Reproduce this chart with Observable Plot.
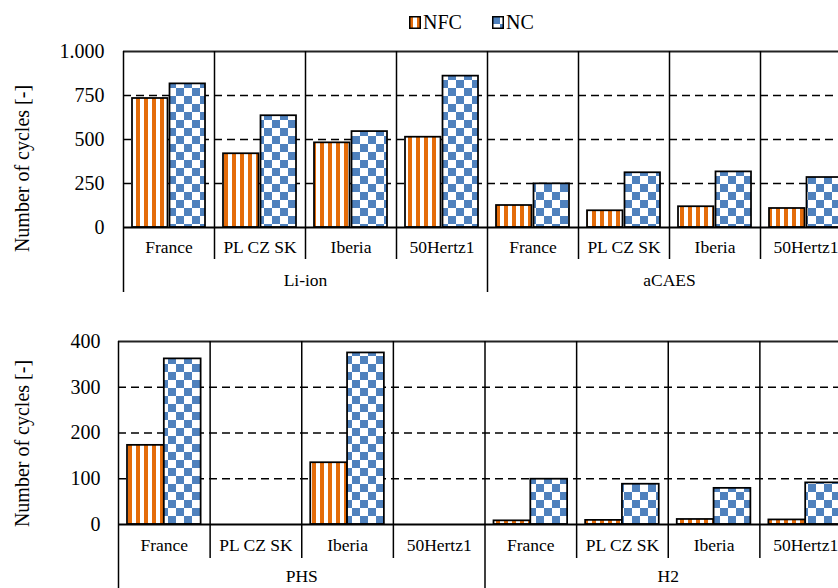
<!DOCTYPE html>
<html>
<head>
<meta charset="utf-8">
<script src="https://cdn.jsdelivr.net/npm/d3@7"></script>
<script src="https://cdn.jsdelivr.net/npm/@observablehq/plot@0.6"></script>
<style>
html, body { margin: 0; padding: 0; background: #fff; }
body { width: 838px; height: 588px; overflow: hidden; font-family: 'Liberation Serif', 'Times New Roman', serif; }
#wrap { width: 880px; }
#legend { position: relative; height: 40px; font-size: 20px; color: #000; }
#legend .item { position: absolute; top: 10px; line-height: 24px; display: flex; align-items: center; }
#legend svg { display: block; margin-right: 2px; }
#panels svg { display: block; }
#panels svg text { font-family: 'Liberation Serif', 'Times New Roman', serif; }
</style>
</head>
<body>
<svg width="0" height="0" style="position:absolute">
  <defs>
    <pattern id="pNFC" width="8" height="8" patternUnits="userSpaceOnUse">
      <rect width="8" height="8" fill="#ffffff"/>
      <rect width="4" height="8" fill="#E46C0A"/>
    </pattern>
    <pattern id="pNC" width="16" height="16" patternUnits="userSpaceOnUse">
      <rect width="16" height="16" fill="#ffffff"/>
      <rect width="8" height="8" fill="#4F81BD"/>
      <rect x="8" y="8" width="8" height="8" fill="#4F81BD"/>
    </pattern>
  </defs>
</svg>
<div id="wrap">
  <div id="legend"></div>
  <div id="panels"></div>
</div>
<script>
// ---- data ----
const regions = ["France", "PL CZ SK", "Iberia", "50Hertz1"];
const topTechs = ["Li-ion", "aCAES"];
const bottomTechs = ["PHS", "H2"];
const seriesNames = ["NFC", "NC"];
const nfcTop = [733, 419, 481, 513, 125, 95, 118, 108];
const ncTop = [816, 635, 545, 860, 248, 311, 316, 284];
const nfcBottom = [173, null, 135, null, 8, 9, 11, 10];
const ncBottom = [362, null, 375, null, 99, 88, 79, 91];
const topTicks = [0, 250, 500, 750, 1000];
const bottomTicks = [0, 100, 200, 300, 400];
const yLabel = "Number of cycles [-]";

const serif = "'Liberation Serif', 'Times New Roman', serif";
const fmt = d3.formatLocale({decimal: ",", thousands: ".", grouping: [3], currency: ["", ""]}).format(",");

// legend
const legend = document.getElementById("legend");
const legendItems = [
  {name: seriesNames[0], fill: "url(#pNFC)", left: 409},
  {name: seriesNames[1], fill: "url(#pNC)", left: 492}
];
for (const it of legendItems) {
  const div = document.createElement("div");
  div.className = "item";
  div.style.left = it.left + "px";
  div.innerHTML = `<svg width="12" height="13"><rect x="0.75" y="0.75" width="10.5" height="11.5" fill="${it.fill}" stroke="#000" stroke-width="1.5"/></svg><span>${it.name}</span>`;
  legend.appendChild(div);
}

function panel({techs, nfc, nc, ticks, height, marginTop, marginBottom, marginLeft, tickPadding,
                catInset, techInset, catDy, techDy, labelDx, labelDy, gap}) {
  const width = 860, marginRight = 9;
  const rows = [];
  techs.forEach((tech, ti) => regions.forEach((region, ri) => {
    const i = ti * regions.length + ri;
    rows.push({key: tech + "|" + region, tech, region, ri, nfc: nfc[i], nc: nc[i]});
  }));
  const bw = (width - marginLeft - marginRight) / rows.length;
  const barW = (bw - 18 - gap) / 2;
  const max = ticks[ticks.length - 1];
  return Plot.plot({
    width, height, marginTop, marginBottom, marginLeft, marginRight,
    style: {fontFamily: serif, fontSize: "20px", maxWidth: "none", background: "transparent", overflow: "visible", color: "#000"},
    x: {type: "band", domain: rows.map(d => d.key), padding: 0, round: false, axis: null},
    y: {domain: [0, max], axis: null},
    marks: [
      Plot.ruleY(ticks.filter(t => t > 0 && t < max), {stroke: "#000", strokeWidth: 1.5, strokeDasharray: "8,5"}),
      Plot.ruleY([max], {stroke: "#222", strokeWidth: 2}),
      Plot.barY(rows.filter(d => d.nfc != null), {x: "key", y: "nfc", fill: "url(#pNFC)", stroke: "#000", strokeWidth: 1.75,
        insetLeft: 9, insetRight: bw - 9 - barW}),
      Plot.barY(rows.filter(d => d.nc != null), {x: "key", y: "nc", fill: "url(#pNC)", stroke: "#000", strokeWidth: 1.75,
        insetLeft: 9 + barW + gap, insetRight: 9}),
      Plot.ruleY([0], {stroke: "#000", strokeWidth: 2}),
      Plot.ruleX(rows.filter(d => d.ri !== 0), {x: "key", dx: -bw / 2, stroke: "#000", strokeWidth: 1.5, insetBottom: catInset}),
      Plot.ruleX(rows.filter(d => d.ri === 0), {x: "key", dx: -bw / 2, stroke: "#000", strokeWidth: 1.5, insetBottom: techInset}),
      Plot.axisY(ticks, {tickSize: 0, tickPadding, tickFormat: fmt, label: null, fontSize: 20, fontFamily: serif}),
      Plot.text(rows, {x: "key", text: "region", frameAnchor: "bottom", dy: catDy, fontSize: 17.5, fontFamily: serif, fill: "#000"}),
      Plot.text(rows.filter(d => d.ri === 2), {x: "key", text: "tech", frameAnchor: "bottom", dx: -bw / 2, dy: techDy, fontSize: 17.5, fontFamily: serif, fill: "#000"}),
      Plot.text([yLabel], {text: d => d, frameAnchor: "left", textAnchor: "middle", dx: labelDx, dy: labelDy, rotate: -90, fontSize: 20, fontFamily: serif, fill: "#000"})
    ]
  });
}

const panels = document.getElementById("panels");
panels.appendChild(panel({
  techs: topTechs, nfc: nfcTop, nc: ncTop, ticks: topTicks,
  height: 260, marginTop: 11, marginBottom: 73, marginLeft: 123, tickPadding: 19,
  catInset: -32, techInset: -65, catDy: 25, techDy: 58, labelDx: -101, labelDy: 29, gap: 2
}));
panels.appendChild(panel({
  techs: bottomTechs, nfc: nfcBottom, nc: ncBottom, ticks: bottomTicks,
  height: 288, marginTop: 41, marginBottom: 64, marginLeft: 118, tickPadding: 18,
  catInset: -34, techInset: -64, catDy: 26, techDy: 57, labelDx: -95.5, labelDy: 10.5, gap: 0
}));
</script>
</body>
</html>
